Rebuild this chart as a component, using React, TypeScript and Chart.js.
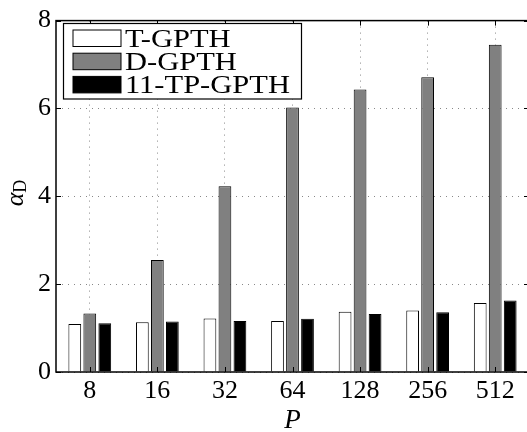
import React, { useEffect, useRef } from "react";
import { Chart, registerables } from "chart.js";

Chart.register(...registerables);

const categories = ["8", "16", "32", "64", "128", "256", "512"];
const seriesNames = ["T-GPTH", "D-GPTH", "11-TP-GPTH"];
const tGpth = [1.09, 1.13, 1.22, 1.16, 1.37, 1.4, 1.57];
const dGpth = [1.33, 2.55, 4.23, 6.02, 6.43, 6.71, 7.45];
const tpGpth = [1.11, 1.15, 1.16, 1.21, 1.32, 1.36, 1.63];
const yTicks = [0, 2, 4, 6, 8];

const SERIF = "'Liberation Serif', serif";

const framePlugin = {
  id: "matlabFrame",
  afterDatasetsDraw(chart: any) {
    const { ctx, chartArea } = chart;
    const { left, right, top, bottom } = chartArea;
    const xs = chart.scales.x;
    const ys = chart.scales.y;
    ctx.save();
    ctx.strokeStyle = "#000";
    ctx.lineWidth = 1;
    ctx.beginPath();
    const tl = 5;
    for (let i = 0; i < categories.length; i++) {
      const x = Math.round(xs.getPixelForValue(i)) + 0.5;
      ctx.moveTo(x, top);
      ctx.lineTo(x, top + tl);
      ctx.moveTo(x, bottom);
      ctx.lineTo(x, bottom - tl);
    }
    for (const v of yTicks) {
      const y = Math.round(ys.getPixelForValue(v)) + 0.5;
      ctx.moveTo(left, y);
      ctx.lineTo(left + tl, y);
      ctx.moveTo(right, y);
      ctx.lineTo(right - tl, y);
    }
    ctx.stroke();
    ctx.lineWidth = 1.5;
    ctx.strokeRect(left, top, right - left, bottom - top);
    ctx.restore();
  },
  afterDraw(chart: any) {
    const { ctx, chartArea } = chart;
    ctx.save();
    const bx = 63.5, by = 23.5, bw = 238, bh = 75.5;
    ctx.fillStyle = "#fff";
    ctx.fillRect(bx, by, bw, bh);
    ctx.strokeStyle = "#000";
    ctx.lineWidth = 1.2;
    ctx.strokeRect(bx, by, bw, bh);
    const stretch = 1.22;
    chart.data.datasets.forEach((ds: any, i: number) => {
      const rowTop = 30 + i * 23.2;
      ctx.fillStyle = ds.backgroundColor;
      ctx.fillRect(73, rowTop, 48, 16.5);
      ctx.strokeStyle = "#000";
      ctx.lineWidth = 1;
      ctx.strokeRect(73, rowTop, 48, 16.5);
      ctx.save();
      ctx.translate(125, rowTop + 17);
      ctx.scale(stretch, 1);
      ctx.fillStyle = "#000";
      ctx.font = `25px ${SERIF}`;
      ctx.textAlign = "left";
      ctx.textBaseline = "alphabetic";
      ctx.fillText(ds.label, 0, 0);
      ctx.restore();
    });
    ctx.save();
    ctx.translate(23, 193);
    ctx.rotate(-Math.PI / 2);
    ctx.fillStyle = "#000";
    ctx.textBaseline = "alphabetic";
    ctx.textAlign = "left";
    ctx.font = `italic 26px ${SERIF}`;
    const wA = ctx.measureText("α").width;
    ctx.font = `18px ${SERIF}`;
    const wD = ctx.measureText("D").width;
    const start = -(wA + wD) / 2;
    ctx.font = `italic 26px ${SERIF}`;
    ctx.fillText("α", start, 0);
    ctx.font = `18px ${SERIF}`;
    ctx.fillText("D", start + wA, 3);
    ctx.restore();
    ctx.fillStyle = "#000";
    ctx.font = `italic 27px ${SERIF}`;
    ctx.textAlign = "center";
    ctx.textBaseline = "alphabetic";
    ctx.fillText("P", (chartArea.left + chartArea.right) / 2, 428);
    ctx.restore();
  },
};

export default function App() {
  const ref = useRef<HTMLCanvasElement>(null);
  useEffect(() => {
    if (!ref.current) return;
    const common = {
      borderColor: "#000",
      borderWidth: 1,
      categoryPercentage: 0.666,
      barPercentage: 0.85,
    };
    const chart = new Chart(ref.current, {
      type: "bar",
      data: {
        labels: categories,
        datasets: [
          { label: seriesNames[0], data: tGpth, backgroundColor: "#ffffff", ...common },
          { label: seriesNames[1], data: dGpth, backgroundColor: "#808080", ...common },
          { label: seriesNames[2], data: tpGpth, backgroundColor: "#000000", ...common },
        ],
      },
      options: {
        animation: false,
        responsive: false,
        devicePixelRatio: 1,
        layout: { padding: { top: 17, right: 2, left: 0, bottom: 0 } },
        plugins: { legend: { display: false }, tooltip: { enabled: false } },
        scales: {
          x: {
            grid: { offset: false, drawTicks: false, color: "#888", lineWidth: 1 },
            border: { display: false, dash: [1, 5] },
            ticks: { font: { family: SERIF, size: 26 }, color: "#000", padding: 4, maxRotation: 0 },
            afterFit: (s: any) => { s.height = 60; },
          },
          y: {
            min: 0,
            max: 8,
            grid: { drawTicks: false, color: "#888", lineWidth: 1 },
            border: { display: false, dash: [1, 5] },
            ticks: { stepSize: 2, font: { family: SERIF, size: 26 }, color: "#000", padding: 5 },
            afterFit: (s: any) => { s.width = 56; },
          },
        },
      },
      plugins: [framePlugin],
    } as any);
    let alive = true;
    const fonts: any = (document as any).fonts;
    if (fonts && fonts.load) {
      Promise.all([
        fonts.load("26px 'Liberation Serif'"),
        fonts.load("italic 26px 'Liberation Serif'"),
      ]).then(() => { if (alive) chart.update(); }).catch(() => {});
    }
    return () => { alive = false; chart.destroy(); };
  }, []);
  return (
    <div style={{ position: "fixed", left: 0, top: 0, width: 527, height: 432, overflow: "hidden", background: "#fff" }}>
      <canvas ref={ref} width={531} height={432} style={{ display: "block" }} />
    </div>
  );
}
